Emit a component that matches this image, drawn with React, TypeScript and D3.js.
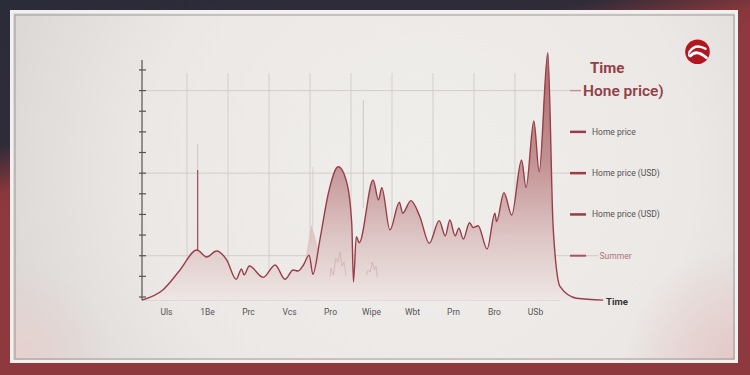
import React from "react";
import * as d3 from "d3";

const categories = ["Uls", "1Be", "Prc", "Vcs", "Pro", "Wipe", "Wbt", "Prn", "Bro", "USb"];
const timeIdx = [-0.1, 0.41, 0.83, 1.24, 1.48, 1.72, 1.97, 2.2, 2.33, 2.39, 2.52, 2.86, 3.15, 3.39, 3.59, 3.71, 3.84, 3.98, 4.07, 4.24, 4.45, 4.69, 4.9, 5.02, 5.06, 5.13, 5.2, 5.54, 5.67, 5.75, 5.95, 6.18, 6.26, 6.46, 6.68, 6.91, 7.15, 7.3, 7.41, 7.54, 7.63, 7.74, 7.89, 7.98, 8.1, 8.32, 8.51, 8.55, 8.73, 8.92, 9.16, 9.27, 9.46, 9.59, 9.8, 9.93, 10.1, 10.5, 11.15];
const homePrice = [-0.15, 0.34, 1.31, 2.28, 1.94, 2.23, 1.79, 0.86, 1.36, 1.07, 1.5, 0.95, 1.55, 0.86, 1.31, 1.26, 1.55, 2.03, 1.1, 2.76, 5.04, 6.31, 5.52, 3.49, 0.73, 2.92, 2.63, 5.67, 4.7, 5.3, 3.25, 4.59, 4.06, 4.67, 3.89, 2.6, 3.7, 2.96, 3.73, 2.96, 3.33, 2.81, 3.6, 3.36, 3.45, 2.33, 4.06, 3.65, 5.05, 3.97, 6.64, 5.3, 8.53, 6.07, 11.84, 3.41, 0.5, -0.06, -0.15];
const ghostIdx = [3.88, 4.04, 4.19];
const ghostPrice = [1.6, 3.45, 2.3];
const squiggleAIdx = [4.49, 4.51, 4.57, 4.63, 4.68, 4.73, 4.78, 4.83, 4.88];
const squiggleAPrice = [0.97, 1.4, 1.06, 1.88, 1.69, 2.18, 1.5, 1.69, 1.0];
const squiggleBIdx = [5.37, 5.42, 5.47, 5.52, 5.57, 5.61, 5.64];
const squiggleBPrice = [1.06, 1.31, 1.21, 1.69, 1.31, 1.5, 0.97];
const yTicks = [0, 1, 2, 3, 4, 5, 6, 7, 8, 9, 10, 11];
const gridValues = [2, 6, 10];
const legendLabels = ["Home price", "Home price (USD)", "Home price (USD)", "Summer"];
const legendValues = [8, 6, 4, 2];
const spikeMarks = [{ t: 1.26 }];

export default function App() {
  const W = 750, H = 375;
  const x = d3.scaleLinear().domain([0, 10]).range([146, 556]);
  const y = d3.scaleLinear().domain([0, 12]).range([297, 49.3]);
  const base = y(-0.15);
  const pts = timeIdx.map((t, i) => [t, homePrice[i]] as [number, number]);
  const area = d3.area<[number, number]>().x(d => x(d[0])).y0(base).y1(d => y(d[1])).curve(d3.curveMonotoneX);
  const ghostArea = d3.area<[number, number]>().x(d => x(d[0])).y0(base).y1(d => y(d[1]));
  const line = d3.line<[number, number]>().x(d => x(d[0])).y(d => y(d[1])).curve(d3.curveMonotoneX);
  const lineLin = d3.line<[number, number]>().x(d => x(d[0])).y(d => y(d[1]));
  const ghost = ghostIdx.map((t, i) => [t, ghostPrice[i]] as [number, number]);
  const sqA = squiggleAIdx.map((t, i) => [t, squiggleAPrice[i]] as [number, number]);
  const sqB = squiggleBIdx.map((t, i) => [t, squiggleBPrice[i]] as [number, number]);
  const gridX = d3.range(1, 10);
  const font = "Roboto, 'Noto Sans', sans-serif";
  const red = "#983e48";

  return (
    <svg width={W} height={H} style={{ position: "absolute", left: 0, top: 0 }}>
      <defs>
        <linearGradient id="bg" gradientUnits="userSpaceOnUse" x1={0} y1={0} x2={50} y2={203}>
          <stop offset="0" stopColor="#2b2c39" />
          <stop offset="0.68" stopColor="#2f2c38" />
          <stop offset="0.9" stopColor="#8a373c" />
          <stop offset="1" stopColor="#8d393e" />
        </linearGradient>
        <radialGradient id="card" gradientUnits="userSpaceOnUse" cx={420} cy={170} r={420}>
          <stop offset="0" stopColor="#f0eeeb" />
          <stop offset="0.65" stopColor="#ebe8e5" />
          <stop offset="1" stopColor="#dcd9d7" />
        </radialGradient>
        <radialGradient id="pinkBR" gradientUnits="userSpaceOnUse" cx={735} cy={360} r={110}>
          <stop offset="0" stopColor="#e5c6c6" stopOpacity="0.9" />
          <stop offset="1" stopColor="#e5c6c6" stopOpacity="0" />
        </radialGradient>
        <radialGradient id="pinkBL" gradientUnits="userSpaceOnUse" cx={20} cy={355} r={90}>
          <stop offset="0" stopColor="#e8cfcd" stopOpacity="0.8" />
          <stop offset="1" stopColor="#e8cfcd" stopOpacity="0" />
        </radialGradient>
        <linearGradient id="fill" gradientUnits="userSpaceOnUse" x1={0} y1={50} x2={0} y2={300}>
          <stop offset="0" stopColor="#ab6a6e" />
          <stop offset="0.45" stopColor="#c39294" />
          <stop offset="0.75" stopColor="#ddc6c5" />
          <stop offset="1" stopColor="#ede6e4" />
        </linearGradient>
        <linearGradient id="ghostFill" gradientUnits="userSpaceOnUse" x1={0} y1={220} x2={0} y2={290}>
          <stop offset="0" stopColor="#dcbebe" />
          <stop offset="1" stopColor="#ece2e1" />
        </linearGradient>
      </defs>
      <rect x={0} y={0} width={W} height={H} fill="url(#bg)" />
      <rect x={10} y={10} width={728} height={353} fill="#f3f1ef" />
      <rect x={13} y={13} width={722} height={347} fill="url(#card)" />
      <rect x={13} y={13} width={722} height={347} fill="url(#pinkBR)" />
      <rect x={13} y={13} width={722} height={347} fill="url(#pinkBL)" />
      <rect x={15} y={15} width={719} height={344} fill="none" stroke="#9d9897" strokeWidth={1} />

      {gridValues.map(v => (
        <line key={v} x1={142} x2={570} y1={y(v)} y2={y(v)} stroke="#d2cecb" strokeWidth={1} />
      ))}
      {gridX.map(k => (
        <line key={k} x1={x(k)} x2={x(k)} y1={73} y2={base} stroke="#d2cecb" strokeWidth={1} />
      ))}
      <line x1={142} x2={560} y1={base} y2={base} stroke="#d2cecb" strokeWidth={1} />

      <path d={ghostArea(ghost) || ""} fill="url(#ghostFill)" stroke="#d9bbbc" strokeWidth={0.6} />
      <line x1={x(4.07)} x2={x(4.07)} y1={167} y2={y(3.4)} stroke="#d3c7c6" strokeWidth={0.8} />

      <path d={area(pts) || ""} fill="url(#fill)" />
      <line x1={x(5.3)} x2={x(5.3)} y1={100} y2={y(4.3)} stroke="#c8bebd" strokeWidth={0.8} />
      {spikeMarks.map((s, i) => (
        <g key={i}>
          <line x1={x(s.t)} x2={x(s.t)} y1={144} y2={170} stroke="#c9bcbb" strokeWidth={0.8} />
          <line x1={x(s.t)} x2={x(s.t)} y1={170} y2={y(2.25)} stroke="#a3474f" strokeWidth={1.2} />
        </g>
      ))}
      <path d={lineLin(sqA) || ""} fill="none" stroke="#d2afb1" strokeWidth={0.8} />
      <path d={lineLin(sqB) || ""} fill="none" stroke="#d2afb1" strokeWidth={0.8} />
      <path d={line(pts) || ""} fill="none" stroke={red} strokeWidth={1.4} />

      <line x1={142} x2={142} y1={60} y2={base} stroke="#555" strokeWidth={1.2} />
      {yTicks.map(v => (
        <line key={v} x1={139} x2={146} y1={y(v)} y2={y(v)} stroke="#555" strokeWidth={1.2} />
      ))}

      {categories.map((c, i) => (
        <text key={c} x={x(i + 0.5)} y={315} textAnchor="middle" fontFamily={font} fontSize={8.5} fill="#555">{c}</text>
      ))}
      <text x={606} y={304.5} fontFamily={font} fontSize={9.5} fontWeight={700} fill="#333">Time</text>

      <text x={590} y={73} fontFamily={font} fontSize={15} fontWeight={700} fill="#983c46">Time</text>
      <line x1={570} x2={581} y1={y(10)} y2={y(10)} stroke="#c98b91" strokeWidth={1.4} />
      <text x={583} y={y(10) + 5.5} fontFamily={font} fontSize={15.5} fontWeight={600} fill="#93404a">Hone price)</text>
      {legendLabels.map((l, i) => {
        const yy = y(legendValues[i]);
        const last = i === legendLabels.length - 1;
        return (
          <g key={i}>
            <line x1={570} x2={586} y1={yy} y2={yy} stroke={last ? "#a9525b" : "#9b3c46"} strokeWidth={last ? 2 : 2.5} />
            {last && <line x1={586} x2={598} y1={yy} y2={yy} stroke="#d8b7b9" strokeWidth={0.8} />}
            <text x={last ? 599.5 : 592} y={yy + 3} fontFamily={font} fontSize={8.5} fill={last ? "#b0727a" : "#555"}>{l}</text>
          </g>
        );
      })}

      <g transform="translate(697.5,51.8)">
        <circle r={12.3} fill="#b2161f" />
        <path d="M-8,0 Q-2,-9 8,-3" fill="none" stroke="#fff" strokeWidth={2.4} strokeLinecap="round" />
        <path d="M-7,4 Q-1,-3 9,6" fill="none" stroke="#fff" strokeWidth={2.8} strokeLinecap="round" />
        <path d="M-8,0 Q-10,4 -7,5" fill="none" stroke="#fff" strokeWidth={1.5} />
      </g>
    </svg>
  );
}
